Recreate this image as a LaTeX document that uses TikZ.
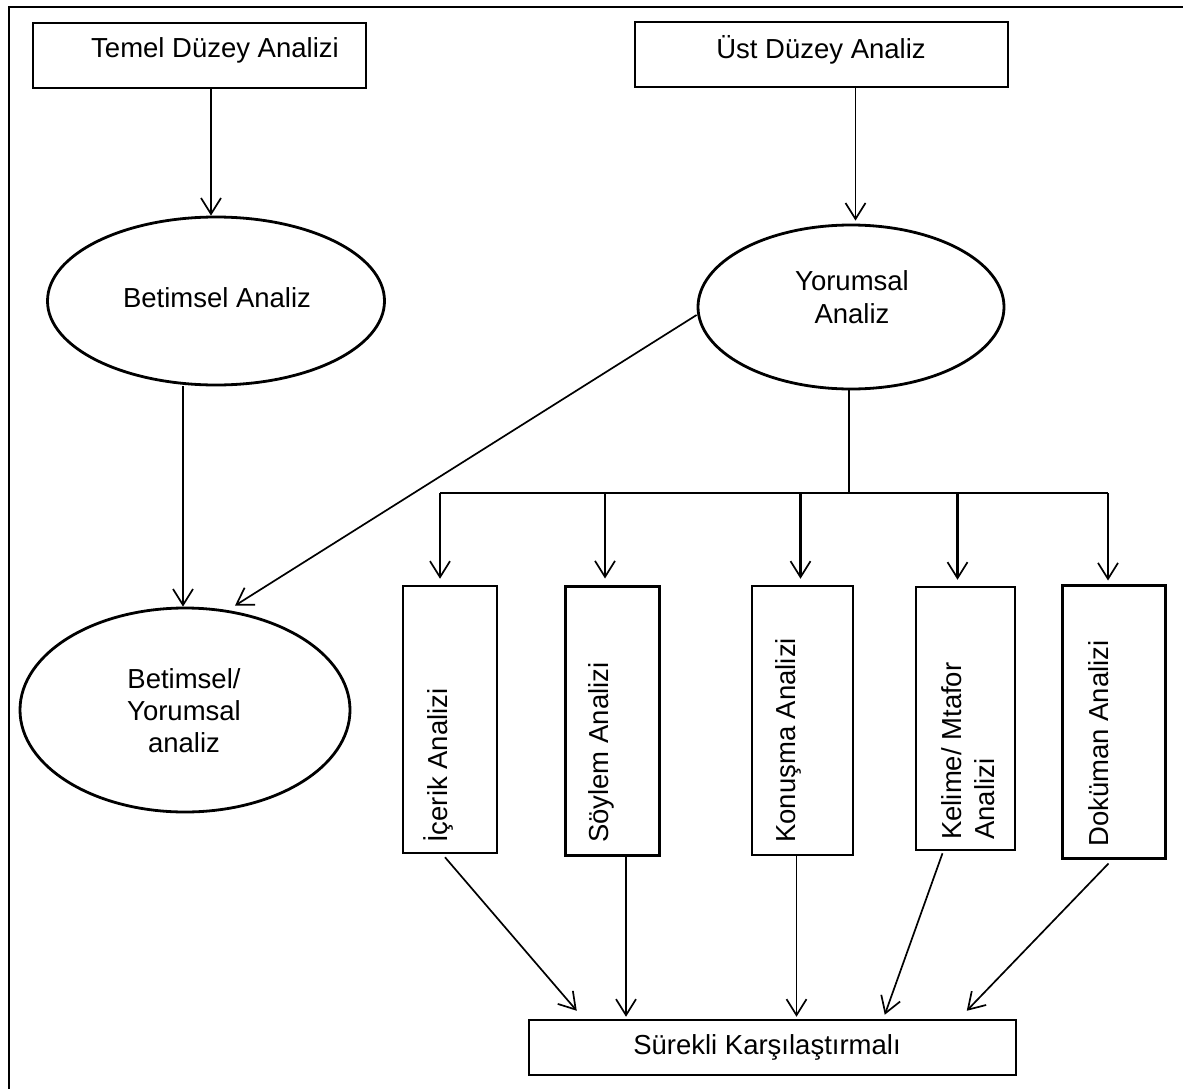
\documentclass[tikz,border=0pt]{standalone}
\usepackage{fontspec}
\setmainfont{Liberation Sans}
\usetikzlibrary{shapes.geometric,arrows.meta,calc}
\begin{document}
\begin{tikzpicture}[x=1pt,y=-1pt,
  rbox/.style={draw,line width=2.5pt,rectangle,inner sep=0pt},
  ell/.style={draw,line width=2.8pt,ellipse,inner sep=0pt},
  txt/.style={inner sep=0pt,align=center,font=\fontsize{27.5}{33}\selectfont},
  vtxt/.style={inner sep=0pt,align=left,rotate=90,anchor=west,font=\fontsize{27.5}{33}\selectfont},
  ln/.style={line width=1.8pt},
  arr/.style={line width=1.7pt,-{Straight Barb[length=16pt,width=20pt,line width=1.7pt]}}
]
\useasboundingbox (0,0) rectangle (1183,1089);
\fill[white] (0,0) rectangle (1183,1089);
% frame
\coordinate (fTL) at (9,7);
\coordinate (fTR) at (1183,7);
\coordinate (fBL) at (9,1089);
\draw[line width=2pt] (fTR) -- (fTL) -- (fBL);
% top boxes
\node[rbox,minimum width=333,minimum height=65] (temel) at (199.5,55.5) {};
\node[txt] (temelt) at (215,50) {Temel Düzey Analizi};
\node[rbox,minimum width=373,minimum height=65] (ust) at (821.5,54.5) {};
\node[txt] (ustt) at (821,50) {Üst Düzey Analiz};
% ellipses
\node[ell,minimum width=337,minimum height=168] (bet) at (216,301) {};
\node[txt] (bett) at (217,298) {Betimsel Analiz};
\node[ell,minimum width=306,minimum height=164] (yor) at (851,307) {};
\node[txt] (yort) at (852,297) {Yorumsal\\Analiz};
\node[ell,minimum width=330,minimum height=204] (by) at (185,710) {};
\node[txt] (byt) at (184,711) {Betimsel/\\[-1pt]Yorumsal\\[-1pt]analiz};
% vertical boxes
\node[rbox,minimum width=94,minimum height=267] (ic) at (450,719.5) {};
\node[vtxt] (ict) at (438,843) {İçerik Analizi};
\node[rbox,line width=3pt,minimum width=94,minimum height=269] (so) at (612,720.5) {};
\node[vtxt] (sot) at (601,843) {Söylem Analizi};
\node[rbox,minimum width=101,minimum height=269] (ko) at (802.5,720.5) {};
\node[vtxt] (kot) at (788,843) {Konuşma Analizi};
\node[rbox,minimum width=99,minimum height=263] (ke) at (965.5,718.5) {};
\node[vtxt] (ket) at (968,840) {Kelime/ Mtafor\\Analizi};
\node[rbox,line width=3pt,minimum width=103,minimum height=273] (do) at (1113.5,721.5) {};
\node[vtxt] (dot) at (1099,847) {Doküman Analizi};
% bottom box
\node[rbox,minimum width=487,minimum height=55] (sk) at (772.5,1047.5) {};
\node[txt] (skt) at (767,1047) {Sürekli Karşılaştırmalı};
% connectors top
\draw[arr] (bet.north |- temel.south) ++(-5,0) coordinate (a1) -- (a1 |- bet.north);
\draw[arr] ($(ust.south)+(34,0)$) coordinate (a2) -- ($(a2 |- yor.north)+(0,-3)$);
\draw[arr,line width=2.1pt] ($(bet.south)+(-33,0)$) coordinate (a3) -- (a3 |- by.north);
\draw[arr] ($(yor.west)+(0,8)$) -- ($(by.north)+(50,-1)$);
% bar
\coordinate (bm) at (849,492);
\coordinate (bl) at (440,493);
\coordinate (br) at (1108,493);
\draw[ln] (yor.south -| bm) -- (bm);
\draw[ln] (bl) -- (br);
\draw[arr,line width=2.3pt] (bl) -- ($(bl |- ic.north)+(0,-6)$);
\draw[arr] (bl -| so.north) ++(-7,0) coordinate (d2) -- ($(d2 |- so.north)+(0,-6)$);
\draw[arr,line width=2.1pt] (bl -| ko.north) ++(-2,0) coordinate (d3) -- ($(d3 |- ko.north)+(0,-6)$);
\draw[arr,line width=2.1pt] (bl -| ke.north) ++(-8,0) coordinate (d4) -- ($(d4 |- ke.north)+(0,-6)$);
\draw[arr] (br) -- ($(br |- do.north)+(0,-3)$);
% connectors bottom
\draw[arr] ($(ic.south)+(-5,3)$) -- ($(sk.north west)+(49,-8)$);
\draw[arr] ($(so.south)+(14,0)$) coordinate (e2) -- ($(e2 |- sk.north)+(0,-2)$);
\draw[arr] ($(ko.south)+(-6,0)$) coordinate (e3) -- ($(e3 |- sk.north)+(0,-2)$);
\draw[arr] ($(ke.south)+(-23,2)$) -- ($(sk.north west)+(357,-4)$);
\draw[arr] ($(do.south)+(-5,4)$) -- ($(sk.north west)+(439,-8)$);
\end{tikzpicture}
\end{document}
